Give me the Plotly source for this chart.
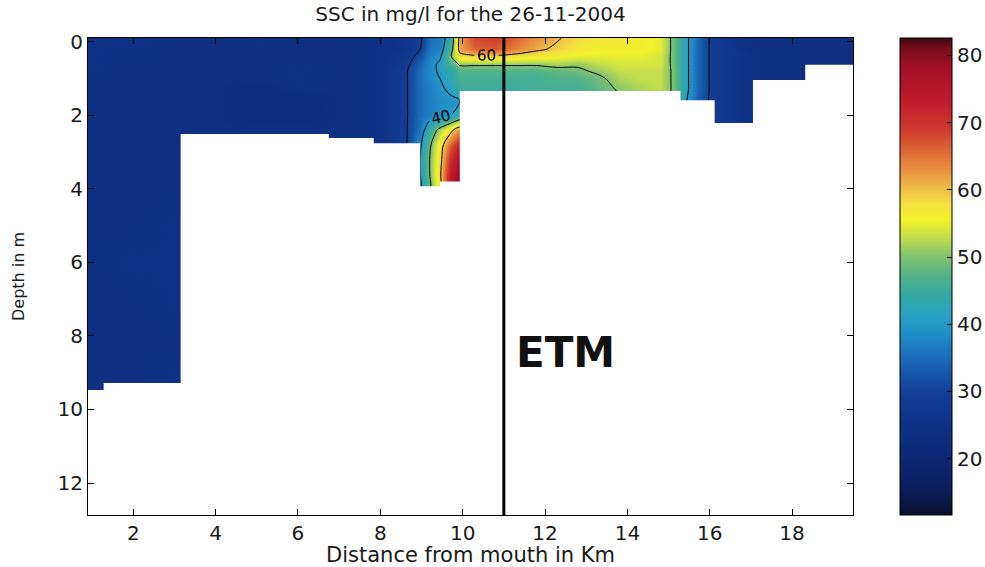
import plotly.graph_objects as go

# Survey stations along the estuary (km from the mouth) and sampling depths (m)
distance_km = [0.9, 2.0, 3.1, 4.0, 5.0, 6.0, 7.0, 8.0, 8.6, 8.97, 9.2, 9.45, 9.7, 9.93,
               10.3, 10.8, 11.3, 11.8, 12.3, 12.8, 13.3, 13.8, 14.3, 14.8, 15.1, 15.4,
               15.7, 16.1, 17.0, 18.3, 19.5]
depth_m = [-0.1, 0.2, 0.4, 0.6, 0.8, 1.0, 1.3, 1.6, 2.0, 2.4, 2.8, 3.2, 3.6, 3.9,
           5.0, 6.0, 7.0, 8.0, 9.0, 9.5]

N = None
# Suspended sediment concentration (mg/l), one row per depth, one value per station
ssc_mg_l = [
    [25, 25, 24, 24, 25, 24, 24, 25, 26, 29, 35, 36, 44, 62, 68, 69, 66, 63, 60.5, 58, 57, 57, 56, 55, 49, 42, 35, 28, 24, 24, 24],
    [25, 25, 24, 24, 24, 24, 24, 25, 26, 30, 36, 37, 46, 62, 66, 67, 64, 61, 59, 57, 56, 56, 56, 55, 49, 42, 35, 28, 24, 24, 24],
    [25, 24, 24, 24, 24, 24, 24, 25, 27, 32, 37, 39, 49, 58, 59, 59, 58, 57, 56, 55, 55, 55, 55, 54, 49, 42, 35, 28, 25, 24, 24],
    [25, 24, 24, 24, 24, 24, 24, 25, 28, 34, 38, 41, 46, 51, 51, 51, 51, 51, 52, 51, 53, 54, 54, 54, 49, 42, 35, 28, 25, 24, 24],
    [24, 24, 24, 24, 24, 25, 24, 25, 29, 35, 38, 41, 43, 47, 47, 47, 47, 47, 48, 49, 51, 53, 53, 53, 49.5, 42, 35, 28, 25, 24, 24],
    [24, 24, 24, 24, 24, 25, 24, 25, 29, 35, 38, 40, 43, 46, 46, 46, 46, 46, 47, 47, 49, 52, 53, 53, 49.5, 42, 35, 28, 25, 24, N],
    [24, 24, 24, 24, 23, 24, 24, 25, 29, 35, 37, 39, 41, 45, 45, 45, 45, 46, 46, 46, 48, 50.5, 52, 53, 49.5, 42, 35, 28, 25, 24, N],
    [24, 24, 24, 24, 23, 23, 24, 25, 29, 35, 37, 38, 39, 40, 45, 45, 45, 46, 46, 46, 47, 49, 51, 52, 49, 41, 34, 28, 25, N, N],
    [24, 24, 24, 24, 23, 23, 24, 25, 29, 35, 37, 38, 40, 44, N, N, N, N, N, N, N, N, N, N, N, N, N, 28, 25, N, N],
    [24, 24, 24, 24, 24, 24, 24, 25, 29, 36, 45, 52, 58, 64, N, N, N, N, N, N, N, N, N, N, N, N, N, 28, 25, N, N],
    [24, 24, 24, 24, 24, 24, 24, 25, 29, 39, 49, 57, 66, 72, N, N, N, N, N, N, N, N, N, N, N, N, N, N, N, N, N],
    [24, 24, 24, N, N, N, N, N, N, 40, 50, 58, 70, 77, N, N, N, N, N, N, N, N, N, N, N, N, N, N, N, N, N],
    [24, 24, 24, N, N, N, N, N, N, 40, 50, 59, 73, 80, N, N, N, N, N, N, N, N, N, N, N, N, N, N, N, N, N],
    [24, 24, 24, N, N, N, N, N, N, 39, 49, 58, 74, 81, N, N, N, N, N, N, N, N, N, N, N, N, N, N, N, N, N],
    [24, 24, 25, N, N, N, N, N, N, N, N, N, N, N, N, N, N, N, N, N, N, N, N, N, N, N, N, N, N, N, N],
    [24, 25, 25, N, N, N, N, N, N, N, N, N, N, N, N, N, N, N, N, N, N, N, N, N, N, N, N, N, N, N, N],
    [24, 24, 25, N, N, N, N, N, N, N, N, N, N, N, N, N, N, N, N, N, N, N, N, N, N, N, N, N, N, N, N],
    [24, 24, 24, N, N, N, N, N, N, N, N, N, N, N, N, N, N, N, N, N, N, N, N, N, N, N, N, N, N, N, N],
    [24, 24, 25, N, N, N, N, N, N, N, N, N, N, N, N, N, N, N, N, N, N, N, N, N, N, N, N, N, N, N, N],
    [24, 24, 25, N, N, N, N, N, N, N, N, N, N, N, N, N, N, N, N, N, N, N, N, N, N, N, N, N, N, N, N],
]

# River bed: stepped bottom profile (segment start in km, bed depth in m)
bed_from_km = [0.9, 1.28, 3.15, 6.75, 7.84, 8.97, 9.45, 9.93, 15.29, 16.12, 17.05, 18.32]
bed_depth_m = [9.47, 9.28, 2.51, 2.62, 2.76, 3.93, 3.80, 1.34, 1.59, 2.21, 1.04, 0.63]

etm_km = 11.0
contour_levels = [30, 40, 50, 60]
x_ticks = [2, 4, 6, 8, 10, 12, 14, 16, 18]
y_ticks = [0, 2, 4, 6, 8, 10, 12]
cbar_ticks = [20, 30, 40, 50, 60, 70, 80]
c_min, c_max = 11.6, 82.6

# Jet-like palette as printed (value, colour)
palette = [
    (11.6, "#0a0f2e"), (15, "#0b1d58"), (20, "#0c2775"), (25, "#0e3185"),
    (29, "#113c93"), (32, "#1450a3"), (35, "#1b6cb8"), (38, "#2189c6"),
    (41, "#27a0c4"), (44, "#34a8a6"), (47, "#4fb28a"), (50, "#80c270"),
    (53, "#c4de4c"), (55.5, "#f2f12a"), (58, "#f3e040"), (60.5, "#efb848"),
    (63, "#e89040"), (66, "#dc6434"), (69, "#cf3a2e"), (73, "#c01c2c"),
    (78, "#a50f26"), (81, "#7a0c1c"), (82.6, "#3c0a10"),
]
colorscale = [[(v - c_min) / (c_max - c_min), c] for v, c in palette]

FONT = "DejaVu Sans"
INK = "#1a1a1a"

fig = go.Figure()

# Concentration field with the 30/40/50/60 mg/l isolines
fig.add_trace(go.Contour(
    x=distance_km, y=depth_m, z=ssc_mg_l,
    connectgaps=True,
    colorscale=colorscale, zmin=c_min, zmax=c_max, zauto=False,
    autocontour=False,
    contours=dict(start=contour_levels[0], end=contour_levels[-1],
                  size=contour_levels[1] - contour_levels[0],
                  coloring="heatmap", showlabels=True,
                  labelfont=dict(family=FONT, size=15, color="black")),
    line=dict(color="black", width=1, smoothing=0.9),
    showscale=False,
    hoverinfo="skip",
))

# White mask below the river bed
x_end = 20.0
seg_start = [0.5] + bed_from_km[1:]
seg_end = bed_from_km[1:] + [x_end]
bed_x, bed_y = [], []
for x0, x1, d in zip(seg_start, seg_end, bed_depth_m):
    bed_x += [x0, x1]
    bed_y += [d, d]
bed_x += [x_end, 0.5]
bed_y += [14, 14]
fig.add_trace(go.Scatter(
    x=bed_x, y=bed_y, mode="lines", fill="toself",
    fillcolor="white", line=dict(width=0, color="white"),
    hoverinfo="skip", showlegend=False,
))

# Continuous colour bar (no isoline marks)
fig.add_trace(go.Scatter(
    x=[None], y=[None], mode="markers", showlegend=False, hoverinfo="skip",
    marker=dict(color=[c_min], colorscale=colorscale, cmin=c_min, cmax=c_max,
                showscale=True,
                colorbar=dict(
                    x=(900 - 88) / 765, xanchor="left", xpad=0,
                    y=0.5, yanchor="middle", len=1, lenmode="fraction", ypad=0,
                    thickness=52, outlinecolor="black", outlinewidth=1,
                    tickvals=cbar_ticks, ticks="inside", ticklen=5, tickcolor="black",
                    tickfont=dict(family=FONT, size=20, color=INK),
                )),
))

# Estuarine turbidity maximum position
fig.add_shape(type="line", xref="x", yref="paper", x0=etm_km, x1=etm_km,
              y0=0, y1=1, line=dict(color="black", width=3), layer="above")
fig.add_annotation(x=etm_km + 1.5, y=8.45, xref="x", yref="y", text="<b>ETM</b>",
                   showarrow=False, font=dict(family=FONT, size=42, color="#111"))

axis_common = dict(
    showgrid=False, zeroline=False, showline=True, linecolor="black", linewidth=1,
    mirror="ticks", ticks="inside", ticklen=6, tickcolor="black",
    tickfont=dict(family=FONT, size=20, color=INK),
)
fig.update_xaxes(range=[0.9, 19.48], tickvals=x_ticks,
                 title=dict(text="Distance from mouth in Km",
                            font=dict(family=FONT, size=21, color=INK), standoff=2),
                 **axis_common)
fig.update_yaxes(range=[12.87, -0.1], tickvals=y_ticks,
                 title=dict(text="Depth in m",
                            font=dict(family=FONT, size=16, color=INK), standoff=28),
                 **axis_common)

fig.update_layout(
    width=985, height=567,
    margin=dict(l=88, r=132, t=38, b=52, autoexpand=False),
    paper_bgcolor="white", plot_bgcolor="white",
    showlegend=False,
    title=dict(text="SSC in mg/l for the 26-11-2004", x=0.5, xref="paper",
               y=1 - 14 / 567, yref="container", yanchor="middle",
               font=dict(family=FONT, size=20, color=INK)),
)

fig.write_html("out.html")
